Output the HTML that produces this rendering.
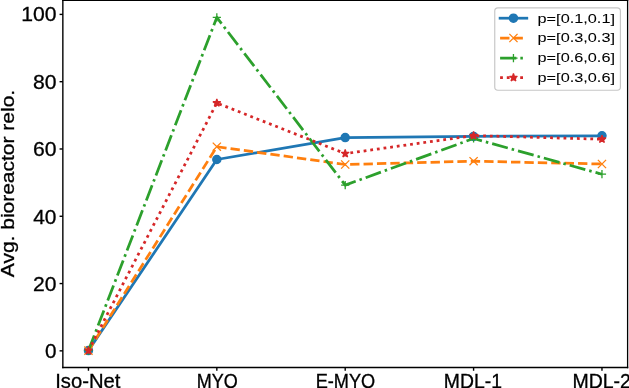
<!DOCTYPE html><html><head><meta charset="utf-8"><style>html,body{margin:0;padding:0;background:#fff;overflow:hidden;width:629px;height:388px}svg{display:block;position:absolute;left:-10px;top:-10px;filter:blur(0.25px)}text{font-family:"Liberation Sans",sans-serif;fill:#000;stroke:#000;stroke-width:0.3px}.lg{stroke-width:0.05px}</style></head><body>
<svg width="649" height="408" viewBox="-10 -10 649 408">
<rect x="-10" y="-10" width="649" height="408" fill="#fff"/>
<polyline points="88.45,350.6 216.83,159.5 345.21,137.6 473.59,136.4 601.97,135.8" fill="none" stroke="#1f77b4" stroke-width="2.75" stroke-linecap="square" stroke-linejoin="round"/>
<circle cx="88.45" cy="350.6" r="4.1" fill="#1f77b4" stroke="#1f77b4" stroke-width="1.3"/>
<circle cx="216.83" cy="159.5" r="4.1" fill="#1f77b4" stroke="#1f77b4" stroke-width="1.3"/>
<circle cx="345.21" cy="137.6" r="4.1" fill="#1f77b4" stroke="#1f77b4" stroke-width="1.3"/>
<circle cx="473.59" cy="136.4" r="4.1" fill="#1f77b4" stroke="#1f77b4" stroke-width="1.3"/>
<circle cx="601.97" cy="135.8" r="4.1" fill="#1f77b4" stroke="#1f77b4" stroke-width="1.3"/>
<polyline points="88.45,350.6 216.83,146.7 345.21,164.5 473.59,161.2 601.97,164" fill="none" stroke="#ff7f0e" stroke-width="2.75" stroke-dasharray="9.36,4.05" stroke-linecap="butt" stroke-linejoin="round"/>
<path d="M84.35,346.5L92.55,354.7M84.35,354.7L92.55,346.5" stroke="#ff7f0e" stroke-width="1.3" fill="none"/>
<path d="M212.73,142.6L220.93,150.8M212.73,150.8L220.93,142.6" stroke="#ff7f0e" stroke-width="1.3" fill="none"/>
<path d="M341.11,160.4L349.31,168.6M341.11,168.6L349.31,160.4" stroke="#ff7f0e" stroke-width="1.3" fill="none"/>
<path d="M469.49,157.1L477.69,165.3M469.49,165.3L477.69,157.1" stroke="#ff7f0e" stroke-width="1.3" fill="none"/>
<path d="M597.87,159.9L606.07,168.1M597.87,168.1L606.07,159.9" stroke="#ff7f0e" stroke-width="1.3" fill="none"/>
<polyline points="88.45,350.6 216.83,17.4 345.21,185.1 473.59,138.5 601.97,174.2" fill="none" stroke="#2ca02c" stroke-width="2.75" stroke-dasharray="16.19,4.05,2.53,4.05" stroke-linecap="butt" stroke-linejoin="round"/>
<path d="M84.35,350.6L92.55,350.6M88.45,346.5L88.45,354.7" stroke="#2ca02c" stroke-width="1.3" fill="none"/>
<path d="M212.73,17.4L220.93,17.4M216.83,13.3L216.83,21.5" stroke="#2ca02c" stroke-width="1.3" fill="none"/>
<path d="M341.11,185.1L349.31,185.1M345.21,181L345.21,189.2" stroke="#2ca02c" stroke-width="1.3" fill="none"/>
<path d="M469.49,138.5L477.69,138.5M473.59,134.4L473.59,142.6" stroke="#2ca02c" stroke-width="1.3" fill="none"/>
<path d="M597.87,174.2L606.07,174.2M601.97,170.1L601.97,178.3" stroke="#2ca02c" stroke-width="1.3" fill="none"/>
<polyline points="88.45,350.6 216.83,103 345.21,153.6 473.59,135.6 601.97,139.2" fill="none" stroke="#d62728" stroke-width="2.75" stroke-dasharray="2.8,3.9" stroke-linecap="butt" stroke-linejoin="round"/>
<path transform="translate(88.45,350.6)" d="M0,-4.1 L-0.92,-1.27 L-3.9,-1.27 L-1.49,0.48 L-2.41,3.32 L-0,1.57 L2.41,3.32 L1.49,0.48 L3.9,-1.27 L0.92,-1.27Z" fill="#d62728" stroke="#d62728" stroke-width="1.3" stroke-linejoin="bevel"/>
<path transform="translate(216.83,103)" d="M0,-4.1 L-0.92,-1.27 L-3.9,-1.27 L-1.49,0.48 L-2.41,3.32 L-0,1.57 L2.41,3.32 L1.49,0.48 L3.9,-1.27 L0.92,-1.27Z" fill="#d62728" stroke="#d62728" stroke-width="1.3" stroke-linejoin="bevel"/>
<path transform="translate(345.21,153.6)" d="M0,-4.1 L-0.92,-1.27 L-3.9,-1.27 L-1.49,0.48 L-2.41,3.32 L-0,1.57 L2.41,3.32 L1.49,0.48 L3.9,-1.27 L0.92,-1.27Z" fill="#d62728" stroke="#d62728" stroke-width="1.3" stroke-linejoin="bevel"/>
<path transform="translate(473.59,135.6)" d="M0,-4.1 L-0.92,-1.27 L-3.9,-1.27 L-1.49,0.48 L-2.41,3.32 L-0,1.57 L2.41,3.32 L1.49,0.48 L3.9,-1.27 L0.92,-1.27Z" fill="#d62728" stroke="#d62728" stroke-width="1.3" stroke-linejoin="bevel"/>
<path transform="translate(601.97,139.2)" d="M0,-4.1 L-0.92,-1.27 L-3.9,-1.27 L-1.49,0.48 L-2.41,3.32 L-0,1.57 L2.41,3.32 L1.49,0.48 L3.9,-1.27 L0.92,-1.27Z" fill="#d62728" stroke="#d62728" stroke-width="1.3" stroke-linejoin="bevel"/>
<path d="M62.85,-0.25V368.15" stroke="#000" stroke-width="1.4" fill="none"/>
<path d="M627.6,-0.25V368.15" stroke="#000" stroke-width="1.3" fill="none"/>
<path d="M62.15,0.35H628.25" stroke="#000" stroke-width="1.2" fill="none"/>
<path d="M62.15,367.45H628.25" stroke="#000" stroke-width="1.4" fill="none"/>
<line x1="88.45" y1="367.45" x2="88.45" y2="370.75" stroke="#000" stroke-width="1.4"/>
<line x1="216.83" y1="367.45" x2="216.83" y2="370.75" stroke="#000" stroke-width="1.4"/>
<line x1="345.21" y1="367.45" x2="345.21" y2="370.75" stroke="#000" stroke-width="1.4"/>
<line x1="473.59" y1="367.45" x2="473.59" y2="370.75" stroke="#000" stroke-width="1.4"/>
<line x1="601.97" y1="367.45" x2="601.97" y2="370.75" stroke="#000" stroke-width="1.4"/>
<line x1="59.55" y1="350.85" x2="62.85" y2="350.85" stroke="#000" stroke-width="1.4"/>
<line x1="59.55" y1="283.56" x2="62.85" y2="283.56" stroke="#000" stroke-width="1.4"/>
<line x1="59.55" y1="216.27" x2="62.85" y2="216.27" stroke="#000" stroke-width="1.4"/>
<line x1="59.55" y1="148.98" x2="62.85" y2="148.98" stroke="#000" stroke-width="1.4"/>
<line x1="59.55" y1="81.69" x2="62.85" y2="81.69" stroke="#000" stroke-width="1.4"/>
<line x1="59.55" y1="14.4" x2="62.85" y2="14.4" stroke="#000" stroke-width="1.4"/>
<text x="44.94" y="358" font-size="19.7" textLength="11.5" lengthAdjust="spacingAndGlyphs">0</text>
<text x="33.05" y="291" font-size="19.7" textLength="23.44" lengthAdjust="spacingAndGlyphs">20</text>
<text x="33.22" y="224" font-size="19.7" textLength="23.26" lengthAdjust="spacingAndGlyphs">40</text>
<text x="32.95" y="156" font-size="19.7" textLength="23.54" lengthAdjust="spacingAndGlyphs">60</text>
<text x="32.96" y="89" font-size="19.7" textLength="23.53" lengthAdjust="spacingAndGlyphs">80</text>
<text x="21.22" y="21" font-size="19.7" textLength="35.29" lengthAdjust="spacingAndGlyphs">100</text>
<text x="55.18" y="387.8" font-size="19.3" textLength="65.19" lengthAdjust="spacingAndGlyphs">Iso-Net</text>
<text x="196.66" y="387.8" font-size="19.3" textLength="41" lengthAdjust="spacingAndGlyphs">MYO</text>
<text x="315.65" y="387.8" font-size="19.3" textLength="59.52" lengthAdjust="spacingAndGlyphs">E-MYO</text>
<text x="443.85" y="387.8" font-size="19.3" textLength="58.13" lengthAdjust="spacingAndGlyphs">MDL-1</text>
<text x="572.44" y="387.8" font-size="19.3" textLength="58.5" lengthAdjust="spacingAndGlyphs">MDL-2</text>
<text transform="rotate(-90)" x="-277.2" y="14.0" font-size="19.0" textLength="187.31" lengthAdjust="spacingAndGlyphs">Avg. bioreactor relo.</text>
<rect x="494.75" y="7.8" width="125.65" height="82.45" rx="3.2" fill="#fff" fill-opacity="0.8" stroke="#c6c6c6" stroke-width="1.15"/>
<line x1="500.1" y1="18.2" x2="526.8" y2="18.2" stroke="#1f77b4" stroke-width="2.75" stroke-linecap="square"/>
<circle cx="513.45" cy="18.2" r="4.1" fill="#1f77b4" stroke="#1f77b4" stroke-width="1.3"/>
<text x="537.54" y="23" font-size="13.6" textLength="77.46" lengthAdjust="spacingAndGlyphs" class="lg">p=[0.1,0.1]</text>
<line x1="500.1" y1="38.0" x2="526.8" y2="38.0" stroke="#ff7f0e" stroke-width="2.75" stroke-dasharray="9.36,4.05" stroke-linecap="butt"/>
<path d="M509.35,33.9L517.55,42.1M509.35,42.1L517.55,33.9" stroke="#ff7f0e" stroke-width="1.3" fill="none"/>
<text x="537.54" y="42" font-size="13.6" textLength="77.46" lengthAdjust="spacingAndGlyphs" class="lg">p=[0.3,0.3]</text>
<line x1="500.1" y1="58.2" x2="526.8" y2="58.2" stroke="#2ca02c" stroke-width="2.75" stroke-dasharray="16.19,4.05,2.53,4.05" stroke-linecap="butt"/>
<path d="M509.35,58.2L517.55,58.2M513.45,54.1L513.45,62.3" stroke="#2ca02c" stroke-width="1.3" fill="none"/>
<text x="537.54" y="62" font-size="13.6" textLength="77.46" lengthAdjust="spacingAndGlyphs" class="lg">p=[0.6,0.6]</text>
<line x1="500.1" y1="77.6" x2="526.8" y2="77.6" stroke="#d62728" stroke-width="2.75" stroke-dasharray="2.8,3.9" stroke-linecap="butt"/>
<path transform="translate(513.45,77.6)" d="M0,-4.1 L-0.92,-1.27 L-3.9,-1.27 L-1.49,0.48 L-2.41,3.32 L-0,1.57 L2.41,3.32 L1.49,0.48 L3.9,-1.27 L0.92,-1.27Z" fill="#d62728" stroke="#d62728" stroke-width="1.3" stroke-linejoin="bevel"/>
<text x="537.54" y="82" font-size="13.6" textLength="77.46" lengthAdjust="spacingAndGlyphs" class="lg">p=[0.3,0.6]</text>
</svg></body></html>
